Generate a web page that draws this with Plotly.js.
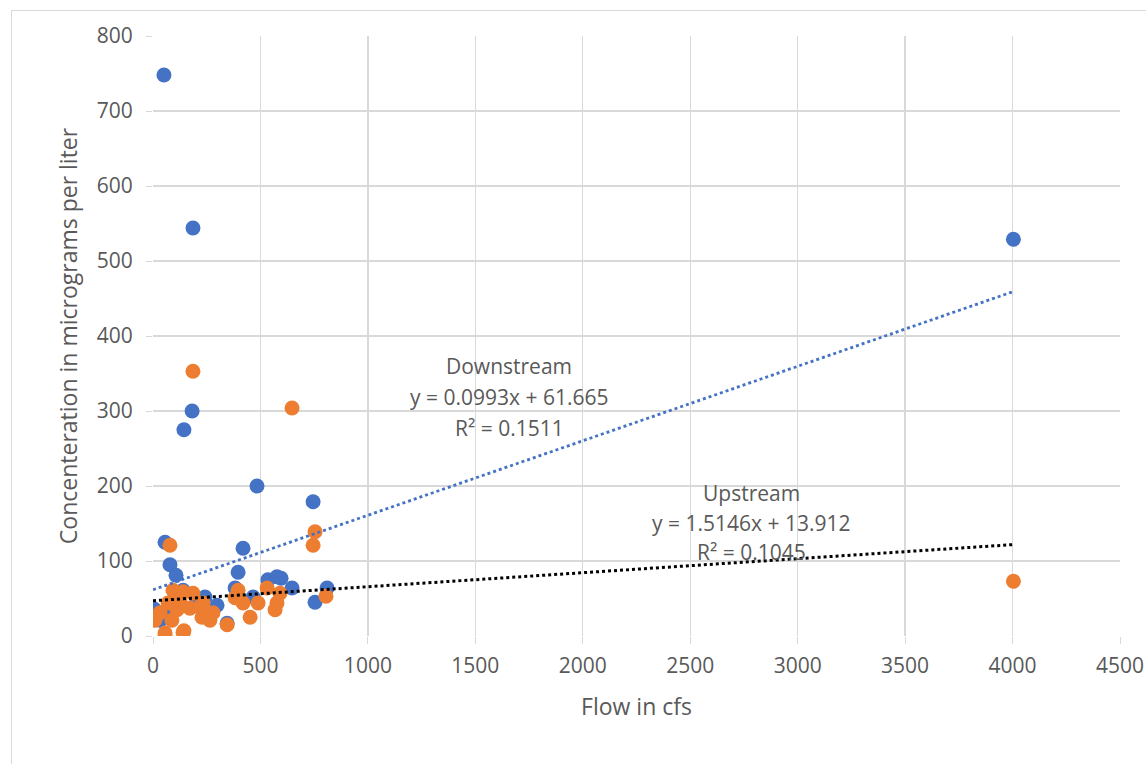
<!DOCTYPE html>
<html><head><meta charset="utf-8">
<script src="https://cdn.plot.ly/plotly-3.0.1.min.js"></script>
<style>
html,body{margin:0;padding:0;background:#fff;overflow:hidden;width:1146px;height:764px;}
#wrap{position:absolute;left:11px;top:10px;width:1140px;height:760px;border:1px solid #d9d9d9;box-sizing:border-box;}
#chart{position:absolute;left:0;top:0;width:1138px;height:758px;}
</style></head><body>
<div id="wrap"><div id="chart"></div></div>
<script>
// Downstream (blue) observations: flow (cfs), concentration (ug/L)
const downFlow = [51,186,4004,182,144,484,745,56,419,79,107,396,535,577,596,382,647,810,754,5,0,140,242,298,345,466,79,196,33];
const downConc = [748,544,529,300,275,200,179,125,117,95,81,85,75,79,77,64,64,64,45,36,32,61,52,41,17,52,35,41,21];
// Upstream (orange) observations
const upFlow = [186,647,79,754,745,4004,805,396,382,419,489,452,345,531,591,577,568,233,279,265,93,140,186,9,56,56,140,88,112,172,219,228,33,144,126,70];
const upConc = [353,304,121,139,121,73,53,61,51,44,44,25,15,64,57,44,35,44,31,21,61,59,57,21,4,0,5,21,35,37,39,25,31,7,48,44];
// Trendline endpoints as drawn
const downTrendX = [0,4010];
const downTrendY = [61.665,459.9];
const upTrendX = [0,4010];
const upTrendY = [47,122];
// Labels
const downLabel = ["Downstream","y = 0.0993x + 61.665","R² = 0.1511"];
const upLabel = ["Upstream","y = 1.5146x + 13.912","R² = 0.1045"];
const xTicks = [0,500,1000,1500,2000,2500,3000,3500,4000,4500];
const yTicks = [0,100,200,300,400,500,600,700,800];

const txt = '#595959';
const font = '"Open Sans", "Noto Sans", sans-serif';
const data = [
  {x: downFlow, y: downConc, mode:'markers', type:'scatter', name:'Downstream',
   marker:{color:'#4472C4', size:15}},
  {x: upFlow, y: upConc, mode:'markers', type:'scatter', name:'Upstream',
   marker:{color:'#ED7D31', size:15}},
  {x: downTrendX, y: downTrendY, mode:'lines', type:'scatter',
   line:{color:'#4472C4', width:2.8, dash:'dot'}},
  {x: upTrendX, y: upTrendY, mode:'lines', type:'scatter',
   line:{color:'#000000', width:3, dash:'dot'}}
];
const plotTop = 25, plotH = 600, plotL = 141, plotW = 967;
function ann(text, cx, cy){
  return {xref:'paper', yref:'paper', x:(cx-11-1-plotL)/plotW, y:1-((cy-11)-plotTop)/plotH,
    xanchor:'center', yanchor:'middle', showarrow:false, text:text,
    font:{size:21, color:txt, family:font}};
}
const annotations = [];
[366,397,428].forEach((cy,i)=>annotations.push(ann(downLabel[i], 509, cy)));
[493,523,552].forEach((cy,i)=>annotations.push(ann(upLabel[i], 751, cy)));

const layout = {
  width:1138, height:758,
  margin:{l:plotL, r:1138-plotL-plotW, t:plotTop, b:758-plotTop-plotH},
  showlegend:false,
  paper_bgcolor:'#fff', plot_bgcolor:'#fff',
  font:{family:font, color:txt, size:21},
  xaxis:{range:[0,4500], tickvals:xTicks, ticktext:xTicks.map(String),
    showgrid:true, gridcolor:'#d9d9d9', gridwidth:1.3, zeroline:false,
    showline:false, ticks:'outside', ticklen:7, tickcolor:'#d9d9d9',
    ticklabelstandoff:4,
    tickfont:{size:21, color:txt, family:font},
    title:{text:'Flow in cfs', font:{size:23, color:txt, family:font}, standoff:20}},
  yaxis:{range:[0,800], tickvals:yTicks, ticktext:yTicks.map(String),
    showgrid:true, gridcolor:'#d9d9d9', gridwidth:1.3, zeroline:false,
    showline:false, ticks:'outside', ticklen:6, tickcolor:'#d9d9d9',
    ticklabelstandoff:9,
    tickfont:{size:21, color:txt, family:font},
    title:{text:'Concenteration in micrograms per liter', font:{size:23, color:txt, family:font}, standoff:12}},
  annotations: annotations
};
Plotly.newPlot('chart', data, layout, {displayModeBar:false, staticPlot:true});
</script></body></html>
